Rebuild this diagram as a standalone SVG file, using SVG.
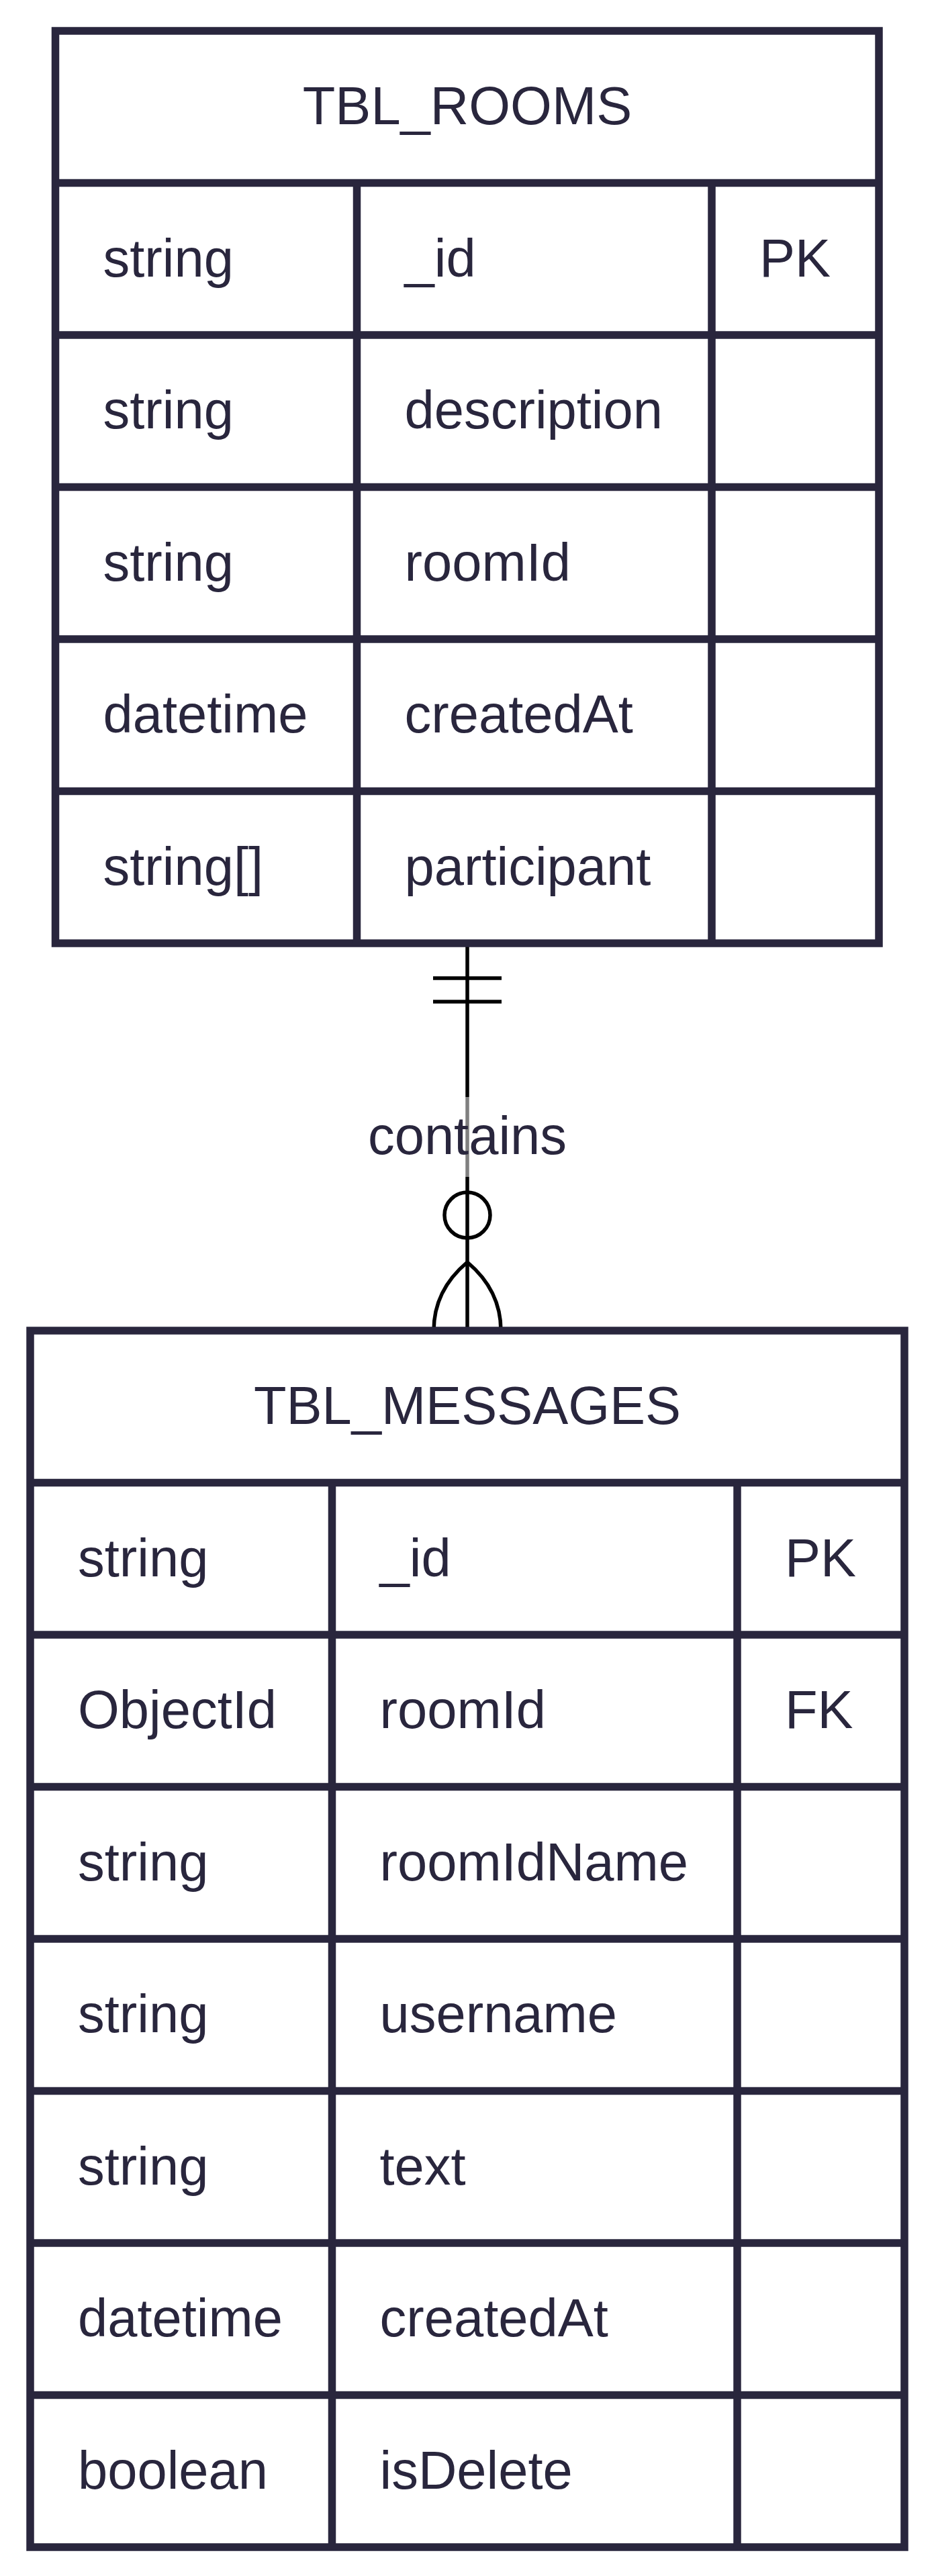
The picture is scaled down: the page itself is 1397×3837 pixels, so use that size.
<svg xmlns="http://www.w3.org/2000/svg" width="1397" height="3837" viewBox="0 0 1397 3837">
<style>
.box{fill:#ffffff;stroke:#29263d;stroke-width:11.5}
.ln{stroke:#29263d;stroke-width:11.5;fill:none}
.t{font-family:"Liberation Sans",Arial,sans-serif;font-size:79.5px;fill:#29263d}
.c{text-anchor:middle}
.rel{stroke:#000;stroke-width:5.5;fill:none}
</style>
<rect width="1397" height="3837" fill="#ffffff"/>
<g id="connectors">
  <line class="rel" x1="696" y1="1405" x2="696" y2="1982"/>
  <line class="rel" x1="645" y1="1457" x2="747" y2="1457"/>
  <line class="rel" x1="645" y1="1492" x2="747" y2="1492"/>
  <circle class="rel" cx="696" cy="1810" r="34" fill="#ffffff"/>
  <path class="rel" d="M646,1982 Q646,1922 696,1880 Q746,1922 746,1982"/>
  <rect x="550" y="1634" width="292" height="119" fill="#ffffff" fill-opacity="0.5"/>
  <text class="t c" x="696" y="1719">contains</text>
</g>
<g id="TBL_ROOMS">
  <rect class="box" x="82.5" y="46" width="1226.5" height="1359"/>
  <line class="ln" x1="82.5" y1="272.5" x2="1309" y2="272.5"/>
  <line class="ln" x1="82.5" y1="499" x2="1309" y2="499"/>
  <line class="ln" x1="82.5" y1="725.5" x2="1309" y2="725.5"/>
  <line class="ln" x1="82.5" y1="952" x2="1309" y2="952"/>
  <line class="ln" x1="82.5" y1="1178.5" x2="1309" y2="1178.5"/>
  <line class="ln" x1="531.5" y1="272.5" x2="531.5" y2="1405"/>
  <line class="ln" x1="1060" y1="272.5" x2="1060" y2="1405"/>
  <text class="t c" x="696" y="185">TBL_ROOMS</text>
  <text class="t" x="153.5" y="412">string</text>
  <text class="t" x="602.5" y="412">_id</text>
  <text class="t" x="1131" y="412">PK</text>
  <text class="t" x="153.5" y="638">string</text>
  <text class="t" x="602.5" y="638">description</text>
  <text class="t" x="153.5" y="865">string</text>
  <text class="t" x="602.5" y="865">roomId</text>
  <text class="t" x="153.5" y="1091">datetime</text>
  <text class="t" x="602.5" y="1091">createdAt</text>
  <text class="t" x="153.5" y="1318">string[]</text>
  <text class="t" x="602.5" y="1318">participant</text>
</g>
<g id="TBL_MESSAGES">
  <rect class="box" x="45" y="1982" width="1302" height="1812"/>
  <line class="ln" x1="45" y1="2208.5" x2="1347" y2="2208.5"/>
  <line class="ln" x1="45" y1="2435" x2="1347" y2="2435"/>
  <line class="ln" x1="45" y1="2661.5" x2="1347" y2="2661.5"/>
  <line class="ln" x1="45" y1="2888" x2="1347" y2="2888"/>
  <line class="ln" x1="45" y1="3114.5" x2="1347" y2="3114.5"/>
  <line class="ln" x1="45" y1="3341" x2="1347" y2="3341"/>
  <line class="ln" x1="45" y1="3567.5" x2="1347" y2="3567.5"/>
  <line class="ln" x1="494.5" y1="2208.5" x2="494.5" y2="3794"/>
  <line class="ln" x1="1098" y1="2208.5" x2="1098" y2="3794"/>
  <text class="t c" x="696" y="2121">TBL_MESSAGES</text>
  <text class="t" x="116" y="2348">string</text>
  <text class="t" x="565.5" y="2348">_id</text>
  <text class="t" x="1169" y="2348">PK</text>
  <text class="t" x="116" y="2574">ObjectId</text>
  <text class="t" x="565.5" y="2574">roomId</text>
  <text class="t" x="1169" y="2574">FK</text>
  <text class="t" x="116" y="2801">string</text>
  <text class="t" x="565.5" y="2801">roomIdName</text>
  <text class="t" x="116" y="3027">string</text>
  <text class="t" x="565.5" y="3027">username</text>
  <text class="t" x="116" y="3254">string</text>
  <text class="t" x="565.5" y="3254">text</text>
  <text class="t" x="116" y="3480">datetime</text>
  <text class="t" x="565.5" y="3480">createdAt</text>
  <text class="t" x="116" y="3707">boolean</text>
  <text class="t" x="565.5" y="3707">isDelete</text>
</g>
</svg>
